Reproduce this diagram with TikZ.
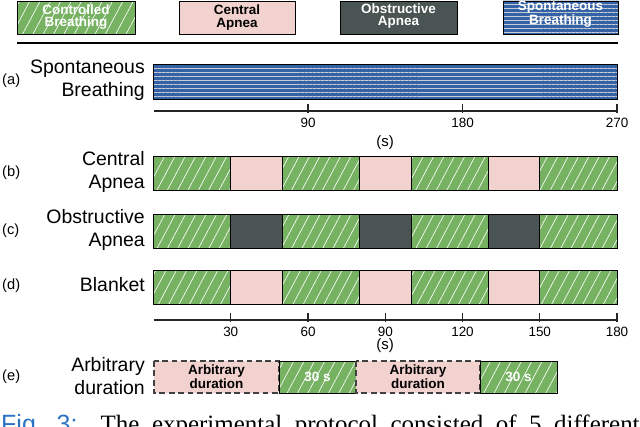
\documentclass[tikz,border=0pt]{standalone}
\usepackage{fontspec}
\setmainfont{Liberation Sans}
\newfontfamily\capserif{Liberation Serif}
\usepackage{xcolor}
\usetikzlibrary{patterns.meta}

\definecolor{cbgreen}{RGB}{118,178,98}
\definecolor{capink}{RGB}{242,210,206}
\definecolor{oadark}{RGB}{74,85,83}
\definecolor{sbblue}{RGB}{52,98,166}
\definecolor{sbgrey}{RGB}{200,204,212}
\definecolor{figblue}{RGB}{45,115,195}

\begin{document}
\begin{tikzpicture}[x=0.03cm, y=-0.03cm,
    cbbox/.style={draw=black, line width=0.7pt, preaction={fill=cbgreen},
        pattern={Lines[angle=62,distance=7.8pt,line width=0.55pt]}, pattern color=white},
    cabox/.style={draw=black, line width=0.7pt, fill=capink},
    oabox/.style={draw=black, line width=0.7pt, fill=oadark},
    sbbox/.style={draw=black, line width=0.7pt, preaction={fill=sbblue},
        pattern={Lines[angle=0,distance=3.4pt,line width=0.8pt]}, pattern color=sbgrey},
    arbbox/.style={draw=black!75, dash pattern=on 5pt off 3pt, line width=1pt, fill=capink},
    rowlabel/.style={anchor=east, align=right, font=\fontsize{16.6}{19.5}\selectfont, inner sep=0pt},
    rowtag/.style={anchor=west, font=\fontsize{12.5}{14}\selectfont, inner sep=0pt},
    ticklabel/.style={font=\fontsize{11.5}{13}\selectfont, inner sep=0pt},
    unitlabel/.style={font=\fontsize{12.8}{14}\selectfont, inner sep=0pt},
    legtext/.style={align=center, font=\bfseries\fontsize{11.5}{10.5}\selectfont, inner sep=0pt},
    axisline/.style={line width=1.3pt, black!85},
  ]
    \useasboundingbox (0, 0) rectangle (640, 427);
    \clip (0, 0) rectangle (640, 427);

    % legend
    \draw[cbbox] (17, 1) rectangle (135, 34);
    \node[legtext, white] (legcb) at (76, 17) {Controlled\\Breathing};
    \draw[cabox] (179, 1) rectangle (295, 34);
    \node[legtext] (legca) at (237, 17.5) {Central\\Apnea};
    \draw[oabox] (340, 1) rectangle (457, 34);
    \node[legtext, white] (legoa) at (398.5, 16) {Obstructive\\Apnea};
    \draw[sbbox] (503, 1) rectangle (618, 34);
    \node[legtext, white] (legsb) at (560.5, 14.5) {Spontaneous\\Breathing};
    \draw[line width=1.6pt] (17, 43) -- (618, 43);

    % (a) spontaneous breathing, 0..270 s
    \draw[sbbox] (153.5, 64) rectangle (617, 99);
    \draw[axisline] (153.5, 111) -- (617, 111);
    \foreach \t in {90, 180, 270} {
        \draw[axisline, line width=1pt] ({153.5+\t*1.7167}, 104) -- ++(0, 9);
        \node[ticklabel] (ta\t) at ({153.5+\t*1.7167}, 123) {\t};
    }
    \node[unitlabel] (unita) at (385, 143) {(s)};
    \node[rowtag] (taga) at (2, 81) {(a)};
    \node[rowlabel] (lbla) at (145, 80) {Spontaneous\\Breathing};

    % (b), (c), (d) 0..180 s
    \foreach \y in {156, 214, 270} {
        \foreach \a/\b in {0/30, 50/80, 100/130, 150/180}
            \draw[cbbox] ({153.5+\a*2.575}, \y) rectangle ({153.5+\b*2.575}, \y+34);
    }
    \foreach \a/\b in {30/50, 80/100, 130/150} {
        \draw[cabox] ({153.5+\a*2.575}, 156) rectangle ({153.5+\b*2.575}, 190);
        \draw[oabox] ({153.5+\a*2.575}, 214) rectangle ({153.5+\b*2.575}, 248);
        \draw[cabox] ({153.5+\a*2.575}, 270) rectangle ({153.5+\b*2.575}, 304);
    }
    \node[rowtag] (tagb) at (2, 173) {(b)};
    \node[rowlabel] (lblb) at (145, 172) {Central\\Apnea};
    \node[rowtag] (tagc) at (2, 231) {(c)};
    \node[rowlabel] (lblc) at (145, 230) {Obstructive\\Apnea};
    \node[rowtag] (tagd) at (2, 286) {(d)};
    \node[rowlabel] (lbld) at (145, 285) {Blanket};

    \draw[axisline] (153.5, 320) -- (617, 320);
    \foreach \t in {30, 60, 90, 120, 150, 180} {
        \draw[axisline, line width=1pt] ({153.5+\t*2.575}, 313) -- ++(0, 9);
        \node[ticklabel] (td\t) at ({153.5+\t*2.575}, 332) {\t};
    }
    \node[unitlabel] (unitd) at (385, 346) {(s)};

    % (e) arbitrary duration
    \draw[arbbox] (154, 361) rectangle (279, 393);
    \node[legtext] (arb1) at (216.5, 377) {Arbitrary\\duration};
    \draw[cbbox] (279, 361) rectangle (356, 393);
    \node[legtext, white] (sec1) at (317.5, 377) {30 s};
    \draw[arbbox] (356, 361) rectangle (480, 393);
    \node[legtext] (arb2) at (418, 377) {Arbitrary\\duration};
    \draw[cbbox] (480, 361) rectangle (557, 393);
    \node[legtext, white] (sec2) at (518.5, 377) {30 s};
    \node[rowtag] (tage) at (2, 377) {(e)};
    \node[rowlabel] (lble) at (145, 376) {Arbitrary\\duration};

    % caption, cut by the lower edge
    \node[anchor=base west, inner sep=0pt] (caption) at (1, 432)
        {\makebox[19.15cm][s]{\fontsize{21.3}{24}\selectfont\color{figblue}Fig.~3:
        \color{black}\capserif The experimental protocol consisted of 5 different}};
\end{tikzpicture}
\end{document}
